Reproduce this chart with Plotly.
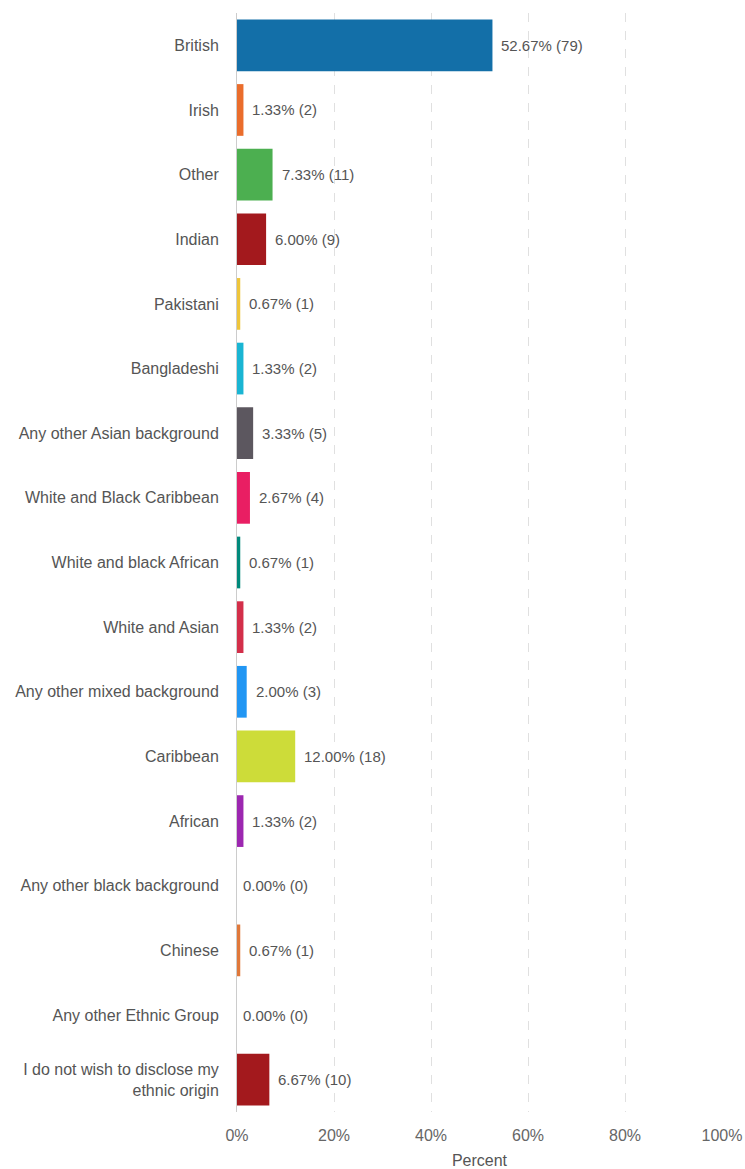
import plotly.graph_objects as go

categories = [
    "British", "Irish", "Other", "Indian", "Pakistani", "Bangladeshi",
    "Any other Asian background", "White and Black Caribbean",
    "White and black African", "White and Asian", "Any other mixed background",
    "Caribbean", "African", "Any other black background", "Chinese",
    "Any other Ethnic Group", "I do not wish to disclose my<br>ethnic origin",
]
percents = [52.67, 1.33, 7.33, 6.00, 0.67, 1.33, 3.33, 2.67, 0.67, 1.33,
            2.00, 12.00, 1.33, 0.00, 0.67, 0.00, 6.67]
counts = [79, 2, 11, 9, 1, 2, 5, 4, 1, 2, 3, 18, 2, 0, 1, 0, 10]
colors = ["#136fa8", "#ea6d2c", "#4caf50", "#a3191d", "#eec53a", "#1ab5d3",
          "#5c575f", "#e91e63", "#00897b", "#d32f4a", "#2196f3", "#cddc39",
          "#9c27b0", "#888888", "#e0783a", "#888888", "#a3191d"]
x_ticks = [0, 20, 40, 60, 80, 100]
x_tick_labels = ["0%", "20%", "40%", "60%", "80%", "100%"]

labels = [f"{p:.2f}% ({c})" for p, c in zip(percents, counts)]

fig = go.Figure(go.Bar(
    x=percents, y=categories, orientation="h",
    marker=dict(color=colors, line=dict(width=0)),
    hoverinfo="x+y",
))

# value labels just past the end of each bar
for cat, p, lab in zip(categories, percents, labels):
    fig.add_annotation(
        x=p, y=cat, text=lab, showarrow=False,
        xanchor="left", xshift=7 if p > 0 else 4,
        font=dict(family="Liberation Sans, Arial", size=15, color="#555555"),
    )

fig.update_layout(
    width=745, height=1169,
    margin=dict(l=237, r=23, t=13, b=57, autoexpand=False),
    paper_bgcolor="white", plot_bgcolor="white",
    bargap=0.2, showlegend=False,
    font=dict(family="Liberation Sans, Arial", size=15, color="#555555"),
    xaxis=dict(
        range=[0, 100], tickvals=x_ticks, ticktext=x_tick_labels,
        showgrid=True, gridcolor="#e0e0e0", griddash="dash", gridwidth=1,
        zeroline=False, ticks="outside", ticklen=9, tickcolor="rgba(0,0,0,0)",
        tickfont=dict(size=16, color="#666666"), automargin=False,
        title=dict(text="Percent", font=dict(size=16, color="#555555"), standoff=11),
    ),
    yaxis=dict(
        categoryorder="array", categoryarray=categories[::-1],
        autorange=False, range=[-0.5, len(categories) - 0.5],
        showline=True, linecolor="#cccccc", linewidth=1, automargin=False,
        showgrid=False, ticks="outside", ticklen=14, tickcolor="rgba(0,0,0,0)",
        tickfont=dict(size=16, color="#555555"),
    ),
)

fig.write_html("out.html")
